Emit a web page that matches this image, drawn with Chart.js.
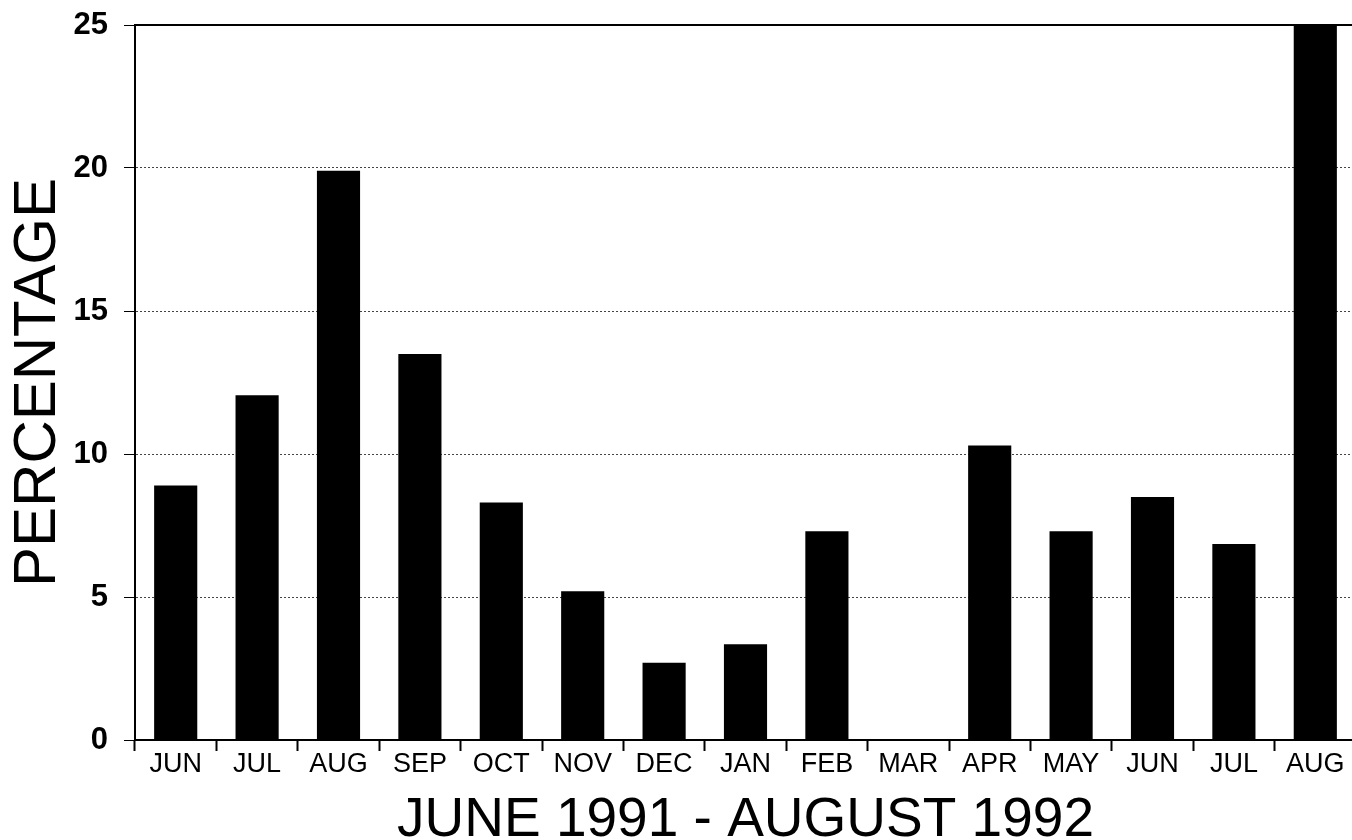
<!DOCTYPE html>
<html>
<head>
<meta charset="utf-8">
<script src="https://cdn.jsdelivr.net/npm/chart.js@4/dist/chart.umd.min.js"></script>
<style>
  html, body { margin: 0; padding: 0; background: #fff; overflow: hidden; }
  #wrap { width: 1360px; height: 840px; }
</style>
</head>
<body>
<div id="wrap"><canvas id="barChart" width="1360" height="840"></canvas></div>
<script>
// months, June 1991 - August 1992
const months = ['JUN', 'JUL', 'AUG', 'SEP', 'OCT', 'NOV', 'DEC', 'JAN', 'FEB', 'MAR', 'APR', 'MAY', 'JUN', 'JUL', 'AUG'];
const percentages = [8.9, 12.05, 19.9, 13.5, 8.3, 5.2, 2.7, 3.35, 7.3, 0, 10.3, 7.3, 8.5, 6.85, 25];
const yTicks = [0, 5, 10, 15, 20, 25];

const xTitle = 'JUNE 1991 - AUGUST 1992';
const yTitle = 'PERCENTAGE';

const ctxBar = document.getElementById('barChart').getContext('2d');
const barChart = new Chart(ctxBar, {
    type: 'bar',
    data: {
        labels: months,
        datasets: [{
            label: 'Percentage',
            data: percentages,
            backgroundColor: '#000',
            borderWidth: 0,
            barPercentage: 0.53,
            categoryPercentage: 1
        }]
    },
    options: {
        responsive: false,
        animation: false,
        layout: { padding: { left: 8, right: 4, top: 25, bottom: 0 } },
        plugins: {
            legend: { display: false },
            tooltip: { enabled: false }
        },
        scales: {
            x: {
                position: 'bottom',
                grid: {
                    drawOnChartArea: false,
                    drawTicks: true,
                    tickLength: 11,
                    tickColor: '#000',
                    tickWidth: 2,
                    offset: true
                },
                border: { display: true, color: '#000', width: 2 },
                ticks: {
                    color: '#000',
                    padding: 0,
                    maxRotation: 0,
                    autoSkip: false,
                    font: { family: "'Liberation Sans', Arial, sans-serif", size: 27, lineHeight: 1 }
                },
                title: {
                    display: true,
                    text: xTitle,
                    color: '#000',
                    padding: { top: 15, bottom: -8 },
                    font: { family: "'Liberation Sans', Arial, sans-serif", size: 55, lineHeight: 1 }
                }
            },
            x2: {
                type: 'category',
                labels: months,
                position: 'top',
                grid: { display: false, drawTicks: false },
                ticks: { display: false },
                border: { display: true, color: '#000', width: 2 }
            },
            y: {
                min: 0,
                max: 25,
                afterBuildTicks: (scale) => { scale.ticks = yTicks.map(v => ({ value: v })); },
                afterFit: (scale) => {
                    scale.width = 127;
                    scale.paddingTop = 0;
                },
                grid: {
                    color: '#444',
                    lineWidth: 1,
                    drawTicks: true,
                    tickLength: 11,
                    tickColor: '#000',
                    tickWidth: 1,
                    tickBorderDash: []
                },
                border: { display: true, color: '#000', width: 2, dash: [2, 2] },
                ticks: {
                    color: '#000',
                    padding: 16,
                    font: { family: "'Liberation Sans', Arial, sans-serif", size: 31, weight: 'bold', lineHeight: 1 }
                },
                title: {
                    display: true,
                    text: yTitle,
                    color: '#000',
                    padding: { top: 0, bottom: 7 },
                    font: { family: "'Liberation Sans', Arial, sans-serif", size: 60, lineHeight: 1 }
                }
            }
        }
    }
});
</script>
</body>
</html>
